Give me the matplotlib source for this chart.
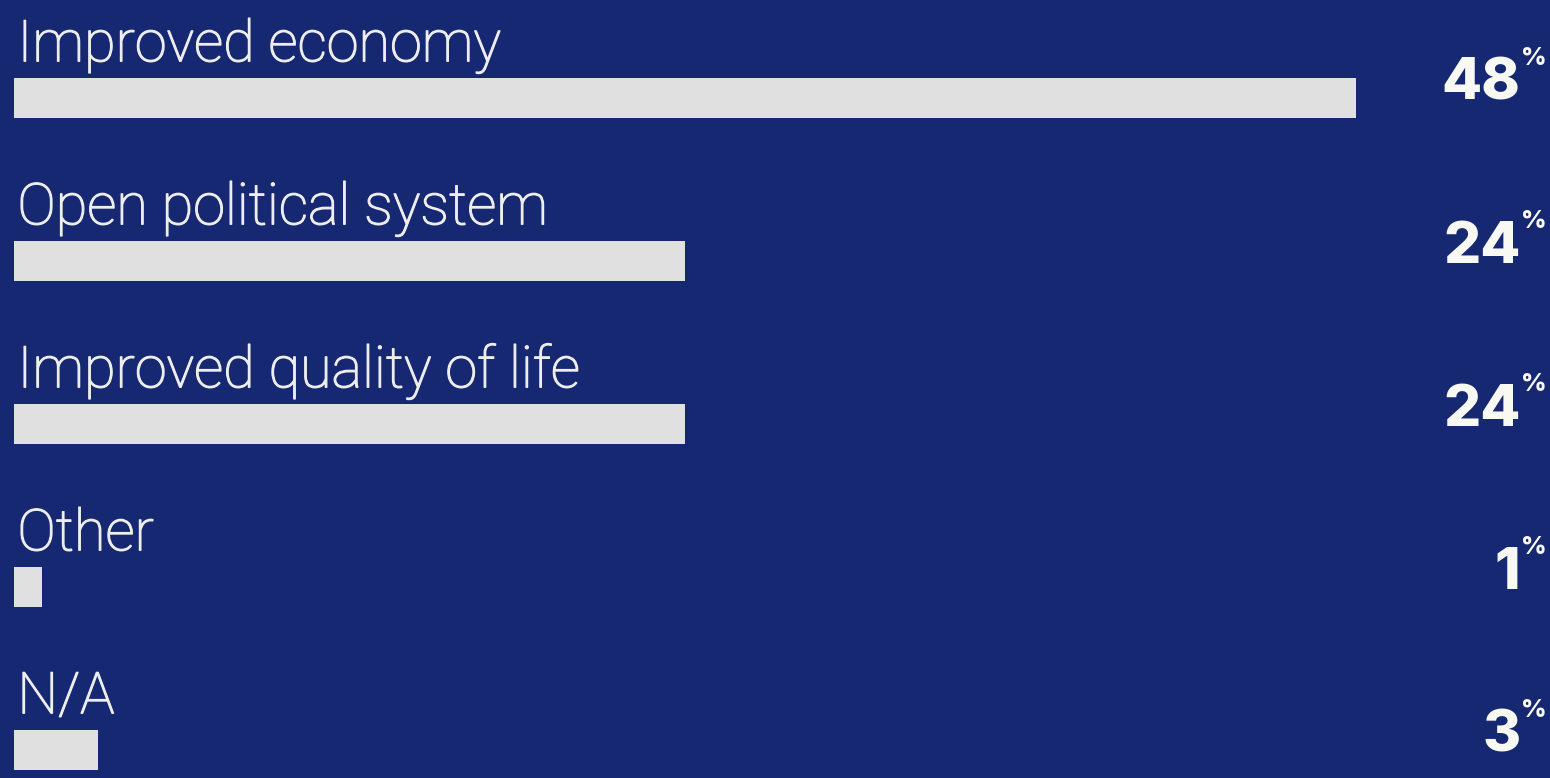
import matplotlib
matplotlib.use('Agg')
import matplotlib.pyplot as plt
import matplotlib.patheffects as pe
from matplotlib.transforms import blended_transform_factory, offset_copy

BG    = '#172872'
BAR   = '#e0e0e0'
TEXT  = '#eeeeee'
WHITE = '#f7f9f2'

categories = ['Improved economy', 'Open political system', 'Improved quality of life',
              'Other', 'N/A']
values = [48, 24, 24, 1, 3]

fig = plt.figure(figsize=(15.5, 7.78), dpi=100)
fig.patch.set_facecolor(BG)
ax = fig.add_axes([0, 0, 1, 1])
ax.set_facecolor(BG)
ax.axis('off')

# 1 unit on x ~ 27.96 px, bars start 14 px from the left edge
ax.set_xlim(-0.5, 54.94)
ax.set_ylim(4.172, -0.601)

pos = list(range(len(categories)))
ax.barh(pos, values, height=0.245, color=BAR, edgecolor='none')

# light face thickened a touch
thicken = [pe.withStroke(linewidth=0.9, foreground=TEXT)]

pct = blended_transform_factory(fig.transFigure, ax.transData)
for i, (cat, val) in enumerate(zip(categories, values)):
    ax.text(0.12, i - 0.225, cat, color=TEXT, fontsize=41.5, family='Roboto',
            fontweight='light', ha='left', va='baseline', path_effects=thicken)
    ax.text(0.981, i + 0.012, f'{val}', transform=pct, color=WHITE,
            fontsize=42, family='Inter', fontweight=800,
            ha='right', va='baseline')
    ax.text(0.981, i - 0.31, '%',
            transform=offset_copy(pct, fig=fig, x=0.5, y=0, units='points'),
            color=WHITE, fontsize=18, family='Inter', fontweight=800,
            ha='left', va='top')

fig.savefig('out.png', dpi=100, facecolor=BG)
